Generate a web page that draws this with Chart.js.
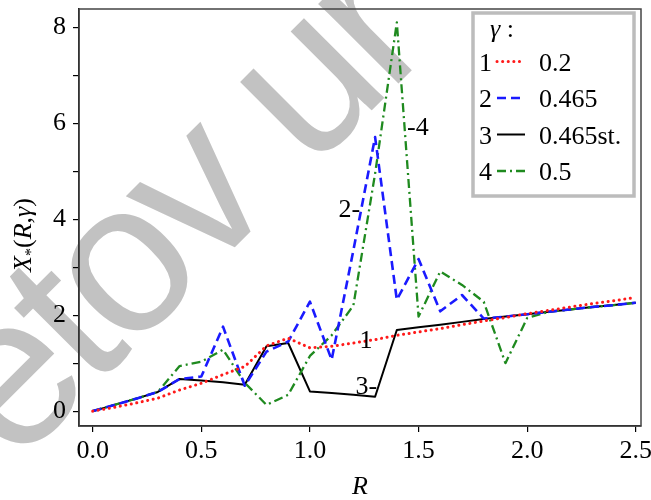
<!DOCTYPE html>
<html>
<head>
<meta charset="utf-8">
<script src="https://cdn.jsdelivr.net/npm/chart.js@4/dist/chart.umd.min.js"></script>
<style>
  html, body { margin: 0; padding: 0; background: #fff; }
  canvas { display: block; }
</style>
</head>
<body>
<canvas id="chart" width="651" height="500"></canvas>
<script>
// R grid (step 0.1)
const R = [0.0, 0.1, 0.2, 0.3, 0.4, 0.5, 0.6, 0.7, 0.8, 0.9, 1.0, 1.1, 1.2,
           1.3, 1.4, 1.5, 1.6, 1.7, 1.8, 1.9, 2.0, 2.1, 2.2, 2.3, 2.4, 2.5];

// X*(R, gamma) for each gamma
const xGamma020 = [0, 0.08, 0.17, 0.27, 0.44, 0.58, 0.76, 0.93, 1.36, 1.52, 1.32, 1.35, 1.42,
                   1.49, 1.58, 1.65, 1.72, 1.80, 1.88, 1.95, 2.03, 2.10, 2.17, 2.24, 2.30, 2.37];
const xGamma0465 = [0, 0.13, 0.26, 0.40, 0.67, 0.72, 1.76, 0.53, 1.24, 1.45, 2.28, 1.07, 3.35,
                    5.71, 2.32, 3.17, 2.08, 2.42, 1.93, 1.97, 2.02, 2.07, 2.12, 2.17, 2.21, 2.26];
const xGamma0465st = [0, 0.13, 0.26, 0.40, 0.67, 0.64, 0.60, 0.55, 1.35, 1.42, 0.41, 0.38, 0.34,
                      0.30, 1.69, 1.75, 1.80, 1.86, 1.92, 1.97, 2.02, 2.07, 2.12, 2.17, 2.21, 2.26];
const xGamma050 = [0, 0.13, 0.26, 0.40, 0.94, 1.03, 1.28, 0.59, 0.13, 0.34, 1.15, 1.58, 2.20,
                   4.95, 8.10, 1.97, 2.91, 2.63, 2.28, 1.00, 1.94, 2.07, 2.12, 2.17, 2.21, 2.26];

const curveNumbers = ['1', '2', '3', '4'];
const gammaLabels = ['0.2', '0.465', '0.465st.', '0.5'];

const xTicks = [0, 0.5, 1.0, 1.5, 2.0, 2.5];
const yTicks = [0, 1, 2, 3, 4, 5, 6, 7, 8];
const yLabelled = [0, 2, 4, 6, 8];

// curve tags written next to the lines: [text, R, X, align]
const curveTags = [
  ['2-', 1.231, 4.05, 'right'],
  ['-4', 1.447, 5.76, 'left'],
  ['1', 1.258, 1.32, 'center'],
  ['3-', 1.309, 0.36, 'right']
];

const SERIF = '"Liberation Serif", "Times New Roman", serif';

function pts(ys) {
  return R.map((r, i) => ({ x: r, y: ys[i] }));
}

function fixBox(size, dim) {
  return function (s) {
    s[dim] = size;
    s.paddingTop = s.paddingBottom = s.paddingLeft = s.paddingRight = 0;
  };
}

// white page with the grey watermark behind everything
const backdrop = {
  id: 'backdrop',
  beforeDraw(chart) {
    const ctx = chart.ctx;
    ctx.save();
    ctx.fillStyle = '#fff';
    ctx.fillRect(0, 0, chart.width, chart.height);
    ctx.font = '214px "Liberation Sans", Arial, sans-serif';
    const ls = -9;
    if ('letterSpacing' in ctx) ctx.letterSpacing = ls + 'px';
    const sp = ('letterSpacing' in ctx) ? ls : 0;
    ctx.fillStyle = '#c2c2c2';
    const lead = ctx.measureText('eto').width + (ctx.measureText('v').width - sp) / 2;
    ctx.translate(243, 239);
    ctx.rotate(-45 * Math.PI / 180);
    ctx.textBaseline = 'alphabetic';
    ctx.fillText('etov ur', -lead, 0);
    ctx.restore();
  }
};

// closed frame round the plot area
const frame = {
  id: 'frame',
  beforeDatasetsDraw(chart) {
    const { ctx, chartArea: a } = chart;
    ctx.save();
    ctx.strokeStyle = '#444';
    ctx.lineWidth = 1.5;
    ctx.strokeRect(a.left, a.top, a.right - a.left, a.bottom - a.top);
    ctx.restore();
  }
};

// numbers on the curves and the boxed legend
const annotate = {
  id: 'annotate',
  afterDatasetsDraw(chart) {
    const ctx = chart.ctx;
    const xs = chart.scales.x, ys = chart.scales.y;
    ctx.save();
    ctx.fillStyle = '#000';
    ctx.font = '26px ' + SERIF;
    ctx.textBaseline = 'alphabetic';
    curveTags.forEach(([t, r, v, al]) => {
      ctx.textAlign = al;
      ctx.fillText(t, xs.getPixelForValue(r), ys.getPixelForValue(v));
    });

    // legend
    const lx = 473, ly = 13, lw = 161, lh = 183;
    ctx.fillStyle = '#fff';
    ctx.fillRect(lx, ly, lw, lh);
    ctx.strokeStyle = '#bcbcbc';
    ctx.lineWidth = 3.5;
    ctx.strokeRect(lx, ly, lw, lh);

    ctx.fillStyle = '#000';
    ctx.textAlign = 'left';
    ctx.font = 'italic 26px ' + SERIF;
    ctx.fillText('\u03b3', 490, 37);
    const gw = ctx.measureText('\u03b3').width;
    ctx.font = '26px ' + SERIF;
    ctx.fillText(' :', 490 + gw, 37);

    chart.data.datasets.forEach((ds, i) => {
      const base = 70.5 + i * 36.5;
      ctx.fillStyle = '#000';
      ctx.font = '26px ' + SERIF;
      ctx.fillText(curveNumbers[i], 479, base);
      ctx.fillText(ds.label, 539, base);
      ctx.save();
      ctx.strokeStyle = ds.borderColor;
      ctx.lineWidth = ds.borderWidth;
      ctx.lineCap = ds.borderCapStyle || 'butt';
      ctx.setLineDash(ds.borderDash || []);
      ctx.beginPath();
      ctx.moveTo(497, base - 9);
      ctx.lineTo(525, base - 9);
      ctx.stroke();
      ctx.restore();
    });
    ctx.restore();
  }
};

// rotated y title X*(R,γ) with the star as a subscript
const yTitle = {
  id: 'yTitle',
  afterDraw(chart) {
    const ctx = chart.ctx;
    const parts = [
      ['X', 'italic 26px ', 0],
      ['*', '16px ', 5],
      ['(', '26px ', 0],
      ['R', 'italic 26px ', 0],
      [',', '26px ', 0],
      ['\u03b3', 'italic 26px ', 0],
      [')', '26px ', 0]
    ];
    ctx.save();
    ctx.fillStyle = '#000';
    ctx.textBaseline = 'alphabetic';
    ctx.textAlign = 'left';
    let total = 0;
    const widths = parts.map(([t, f]) => {
      ctx.font = f + SERIF;
      const w = ctx.measureText(t).width;
      total += w;
      return w;
    });
    ctx.translate(31, 235);
    ctx.rotate(-Math.PI / 2);
    let x = -total / 2;
    parts.forEach(([t, f, dy], i) => {
      ctx.font = f + SERIF;
      ctx.fillText(t, x, dy);
      x += widths[i];
    });
    ctx.restore();
  }
};

new Chart(document.getElementById('chart'), {
  type: 'line',
  data: {
    datasets: [
      {
        label: gammaLabels[0], data: pts(xGamma020), order: 0,
        borderColor: '#ff1a1a', borderWidth: 3, borderDash: [0.1, 5.5], borderCapStyle: 'round'
      },
      {
        label: gammaLabels[1], data: pts(xGamma0465), order: 1,
        borderColor: '#1a1aff', borderWidth: 2.6, borderDash: [9, 5]
      },
      {
        label: gammaLabels[2], data: pts(xGamma0465st), order: 3,
        borderColor: '#000', borderWidth: 2
      },
      {
        label: gammaLabels[3], data: pts(xGamma050), order: 2,
        borderColor: '#1f8a1f', borderWidth: 2.3, borderDash: [9, 4, 2, 4]
      }
    ]
  },
  options: {
    responsive: false,
    animation: false,
    devicePixelRatio: 1,
    layout: { padding: { top: 9, right: 10, left: 0, bottom: 0 } },
    elements: {
      point: { radius: 0 },
      line: { tension: 0, fill: false, borderJoinStyle: 'round' }
    },
    plugins: { legend: { display: false }, tooltip: { enabled: false } },
    scales: {
      x: {
        type: 'linear', min: -0.063, max: 2.524,
        afterBuildTicks: s => { s.ticks = xTicks.map(v => ({ value: v })); },
        afterFit: fixBox(74, 'height'),
        grid: { drawOnChartArea: false, drawTicks: true, tickLength: 6, color: '#000', lineWidth: 1.2 },
        border: { color: '#000', width: 1.5 },
        ticks: {
          color: '#000', padding: 4, maxRotation: 0, autoSkip: false,
          font: { family: SERIF, size: 26 },
          callback: v => Number(v).toFixed(1)
        },
        title: {
          display: true, text: 'R', color: '#000',
          font: { family: SERIF, size: 26, style: 'italic', lineHeight: 1 },
          padding: { top: 0, bottom: 0 }
        }
      },
      y: {
        type: 'linear', min: -0.31, max: 8.38,
        afterBuildTicks: s => { s.ticks = yTicks.map(v => ({ value: v })); },
        afterFit: fixBox(79, 'width'),
        grid: { drawOnChartArea: false, drawTicks: true, tickLength: 6, color: '#000', lineWidth: 1.2 },
        border: { color: '#000', width: 1.5 },
        ticks: {
          color: '#000', padding: 7, autoSkip: false,
          font: { family: SERIF, size: 26 },
          callback: v => (yLabelled.includes(v) ? String(v) : '')
        }
      }
    }
  },
  plugins: [backdrop, frame, annotate, yTitle]
});
</script>
</body>
</html>
